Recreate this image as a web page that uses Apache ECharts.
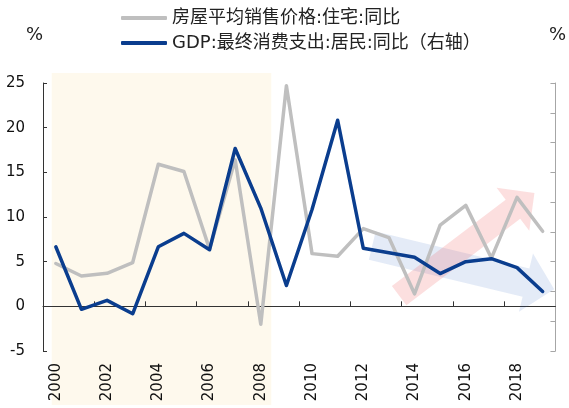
<!DOCTYPE html>
<html><head><meta charset="utf-8">
<script src="https://cdn.jsdelivr.net/npm/echarts@6/dist/echarts.min.js"></script>
<style>html,body{margin:0;padding:0;background:#fff}#c{width:569px;height:408px}</style>
</head><body><div id="c"></div>
<script>
// ---- data ----
const years = [2000,2001,2002,2003,2004,2005,2006,2007,2008,2009,2010,2011,2012,2013,2014,2015,2016,2017,2018,2019];
const housingPriceYoY = [4.8,3.4,3.7,4.9,15.9,15.1,6.4,16.4,-2.0,24.7,5.9,5.6,8.7,7.7,1.4,9.1,11.3,5.4,12.2,8.4];
const householdConsumptionYoY = [11.0,6.8,7.4,6.5,11.0,11.9,10.8,17.6,13.6,8.4,13.5,19.5,10.9,10.6,10.3,9.2,10.0,10.2,9.6,8.0];
const xLabelYears = [2000,2002,2004,2006,2008,2010,2012,2014,2016,2018];
const xTickBoundaries = [2001.5,2003.5,2005.5,2007.5,2009.5,2011.5,2013.5,2015.5,2017.5];
const shadedPeriod = [1999.84, 2008.4];
const trendUp = [2013.4, 1.2, 2018.68, 12.7];     // [fromYear, fromValue, toYear, toValue]
const trendDown = [2012.35, 6.8, 2019.45, 1.9];
const seriesNames = ['房屋平均销售价格:住宅:同比', 'GDP:最终消费支出:居民:同比（右轴）'];

const FONT = 'DejaVu Sans, Noto Sans CJK SC, sans-serif';

function arrowRenderer(shaftW, headW, headL, color) {
  return function (params, api) {
    const a = api.coord([api.value(0), api.value(1)]);
    const b = api.coord([api.value(2), api.value(3)]);
    const dx = b[0] - a[0], dy = b[1] - a[1];
    const len = Math.sqrt(dx * dx + dy * dy);
    const ux = dx / len, uy = dy / len;
    const nx = -uy, ny = ux;
    const bx = b[0] - ux * headL, by = b[1] - uy * headL;
    const pts = [
      [a[0] + nx * shaftW / 2, a[1] + ny * shaftW / 2],
      [bx + nx * shaftW / 2, by + ny * shaftW / 2],
      [bx + nx * headW / 2, by + ny * headW / 2],
      [b[0], b[1]],
      [bx - nx * headW / 2, by - ny * headW / 2],
      [bx - nx * shaftW / 2, by - ny * shaftW / 2],
      [a[0] - nx * shaftW / 2, a[1] - ny * shaftW / 2]
    ];
    return { type: 'polygon', shape: { points: pts }, style: { fill: color } };
  };
}

const chart = echarts.init(document.getElementById('c'), null, { renderer: 'canvas' });
chart.setOption({
  animation: false,
  backgroundColor: '#ffffff',
  textStyle: { fontFamily: FONT },
  legend: {
    orient: 'vertical',
    left: 121, top: 9, padding: 0,
    itemWidth: 46, itemHeight: 4, itemGap: 7,
    icon: 'roundRect',
    textStyle: { fontSize: 18, color: '#222', fontFamily: FONT },
    data: seriesNames
  },
  grid: [
    { left: 43, right: 13, top: 83, bottom: 57, containLabel: false },
    { left: 43, right: 13, top: 73, bottom: 3, containLabel: false }
  ],
  xAxis: [
    { gridIndex: 0, type: 'value', min: 1999.5, max: 2019.5, position: 'bottom',
      axisLine: { show: false, onZero: false }, axisTick: { show: false }, splitLine: { show: false },
      axisLabel: { customValues: xLabelYears, rotate: 90, margin: 12, fontSize: 15, color: '#111', fontFamily: FONT,
        formatter: v => String(v) } },
    { gridIndex: 0, type: 'value', min: 1999.5, max: 2019.5, position: 'bottom',
      axisLine: { show: true, onZero: true, lineStyle: { color: '#333', width: 1 } },
      axisTick: { show: true, inside: true, length: 5, customValues: xTickBoundaries, lineStyle: { color: '#333' } },
      axisLabel: { show: false }, splitLine: { show: false } },
    { gridIndex: 1, type: 'value', min: 1999.5, max: 2019.5, show: false }
  ],
  yAxis: [
    { gridIndex: 0, type: 'value', min: -5, max: 25, interval: 5, position: 'left',
      name: '%', nameLocation: 'end', nameGap: 48,
      nameTextStyle: { fontSize: 18, color: '#222', align: 'right', verticalAlign: 'middle', fontFamily: FONT },
      axisLine: { show: true, lineStyle: { color: '#333' } },
      axisTick: { show: true, inside: true, length: 4, lineStyle: { color: '#333' } },
      axisLabel: { fontSize: 15, color: '#111', margin: 18, fontFamily: FONT },
      splitLine: { show: false } },
    { gridIndex: 0, type: 'value', min: 4, max: 22, interval: 2, position: 'right',
      name: '%', nameLocation: 'end', nameGap: 48,
      nameTextStyle: { fontSize: 18, color: '#222', align: 'center', verticalAlign: 'middle', fontFamily: FONT, padding: [0, 0, 0, 4] },
      axisLine: { show: true, onZero: false, lineStyle: { color: '#a6a6a6' } },
      axisTick: { show: true, inside: true, length: 5, lineStyle: { color: '#a6a6a6' } },
      axisLabel: { show: false },
      splitLine: { show: false } },
    { gridIndex: 1, type: 'value', min: 0, max: 1, show: false }
  ],
  series: [
    { type: 'custom', name: 'shade', xAxisIndex: 2, yAxisIndex: 2, z: -1, silent: true,
      data: [shadedPeriod],
      renderItem: function (params, api) {
        const x1 = api.coord([api.value(0), 0])[0];
        const x2 = api.coord([api.value(1), 0])[0];
        const cs = params.coordSys;
        return { type: 'rect', shape: { x: x1, y: cs.y, width: x2 - x1, height: cs.height }, style: { fill: '#fef9ed' } };
      } },
    { type: 'custom', name: 'trendDown', xAxisIndex: 0, yAxisIndex: 0, z: 1, silent: true,
      encode: { x: [0, 2], y: [1, 3] }, data: [trendDown],
      renderItem: arrowRenderer(29, 60, 29, 'rgba(30,90,190,0.12)') },
    { type: 'custom', name: 'trendUp', xAxisIndex: 0, yAxisIndex: 0, z: 1, silent: true,
      encode: { x: [0, 2], y: [1, 3] }, data: [trendUp],
      renderItem: arrowRenderer(24, 54, 27, 'rgba(240,80,80,0.18)') },
    { type: 'line', name: seriesNames[0], xAxisIndex: 0, yAxisIndex: 0, z: 3,
      data: years.map((y, i) => [y, housingPriceYoY[i]]),
      symbol: 'none', color: '#bfbfbf',
      lineStyle: { color: '#bfbfbf', width: 3.5, join: 'round', cap: 'round' } },
    { type: 'line', name: seriesNames[1], xAxisIndex: 0, yAxisIndex: 1, z: 4,
      data: years.map((y, i) => [y, householdConsumptionYoY[i]]),
      symbol: 'none', color: '#0a3d8e',
      lineStyle: { color: '#0a3d8e', width: 3.5, join: 'round', cap: 'round' } }
  ]
});
</script>
</body></html>
